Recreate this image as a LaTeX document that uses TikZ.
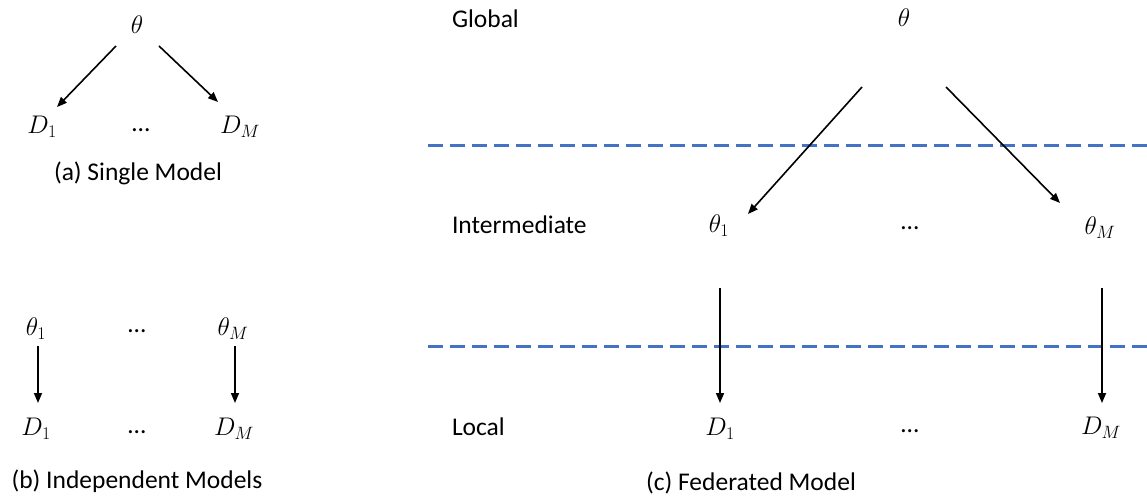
\RequirePackage{fix-cm}
\documentclass[tikz,border=0pt]{standalone}
\usepackage{fontspec}
\setmainfont{Carlito}
\usetikzlibrary{arrows.meta,calc}
\definecolor{sepblue}{RGB}{68,114,196}
\begin{document}
\begin{tikzpicture}[x=1pt,y=-1pt,
  every node/.style={font=\fontsize{25.5}{30}\selectfont, inner sep=0pt, outer sep=0pt},
  lbl/.style={anchor=base west},
  captxt/.style={anchor=base},
  dotsnode/.style={anchor=base, yshift=-6pt},
  arr/.style={line width=1.6pt, -{Triangle[length=10pt,width=8pt]}},
  sepline/.style={sepblue, line width=3pt, dash pattern=on 15pt off 7pt}]
\useasboundingbox (0,0) rectangle (1147,501);

% (a) Single Model
\node (tha) at (137,25) {$\theta$};
\node (Da1) at (42,127) {$D_1$};
\node[dotsnode] (dota) at (141,125) {…};
\node (DaM) at (240,127) {$D_M$};
\node[captxt] (capa) at (138,180) {(a) Single Model};
\draw[arr] ($(tha)+(-21,21)$) -- ($(Da1)+(15,-20)$);
\draw[arr] ($(tha)+(22,21)$) -- ($(DaM)+(-22,-25)$);

% (b) Independent Models
\node (thb1) at (36,329) {$\theta_1$};
\node[dotsnode] (dotb1) at (137,326) {…};
\node (thbM) at (233,329) {$\theta_M$};
\node (Db1) at (36,429) {$D_1$};
\node[dotsnode] (dotb2) at (137,427) {…};
\node (DbM) at (234,429) {$D_M$};
\node[captxt] (capb) at (137,488) {(b) Independent Models};
\draw[arr] ($(thb1)+(2,17)$) -- ($(Db1)+(2,-26)$);
\draw[arr] ($(thbM)+(2,17)$) -- ($(DbM)+(1,-26)$);

% (c) Federated Model
\node[lbl] (glob) at (452,27) {Global};
\node[lbl] (inter) at (452,233) {Intermediate};
\node[lbl] (loc) at (452,435) {Local};
\draw[sepline] (428,145) -- (1147,145);
\draw[sepline] (428,346) -- (1147,346);
\node (thc) at (904,17.5) {$\theta$};
\node (thc1) at (719,226) {$\theta_1$};
\node[dotsnode] (dotc1) at (910,223) {…};
\node (thcM) at (1100,228) {$\theta_M$};
\node (Dc1) at (720,429) {$D_1$};
\node[dotsnode] (dotc2) at (910,426) {…};
\node (DcM) at (1101,428) {$D_M$};
\node[captxt] (capc) at (751,490) {(c) Federated Model};
\draw[arr] ($(thc)+(-42,69.5)$) -- ($(thc1)+(29,-12)$);
\draw[arr] ($(thc)+(42,69.5)$) -- ($(thcM)+(-40,-25)$);
\draw[arr] ($(thc1)+(1,62)$) -- ($(Dc1)+(0,-26)$);
\draw[arr] ($(thcM)+(2,60)$) -- ($(DcM)+(1,-25)$);
\end{tikzpicture}
\end{document}
